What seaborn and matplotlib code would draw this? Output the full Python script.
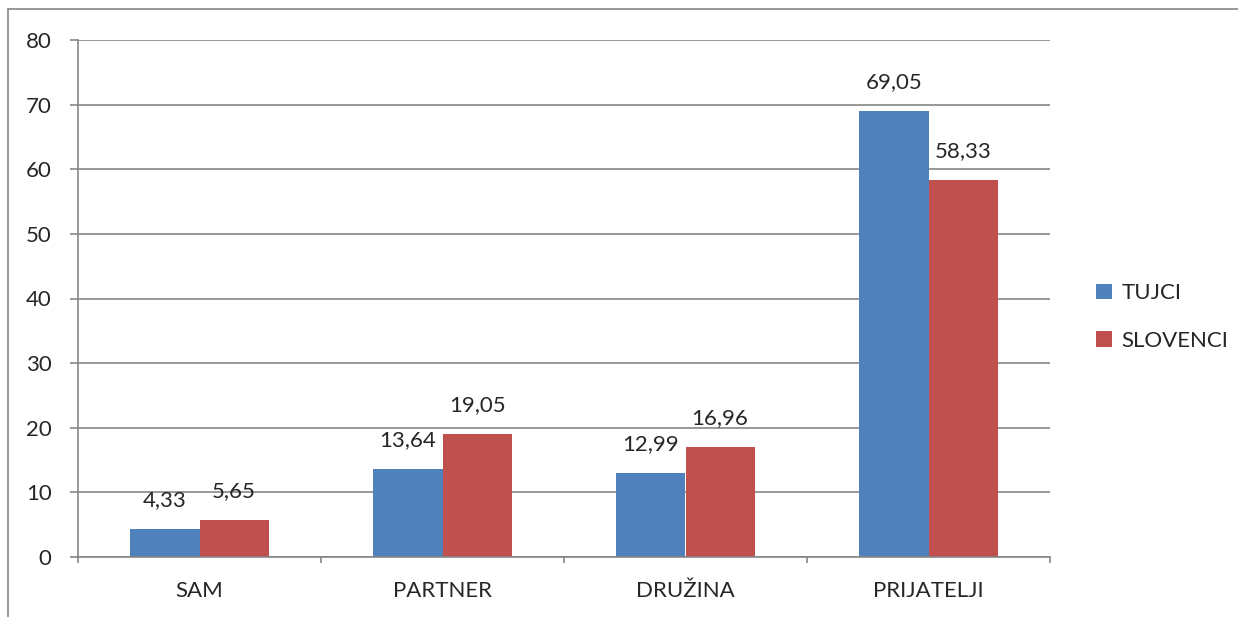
import matplotlib
matplotlib.use("Agg")
import matplotlib.pyplot as plt
from matplotlib.lines import Line2D
from matplotlib.patches import Patch
import seaborn as sns
import pandas as pd

categories = ["SAM", "PARTNER", "DRUŽINA", "PRIJATELJI"]
tujci = [4.33, 13.64, 12.99, 69.05]
slovenci = [5.65, 19.05, 16.96, 58.33]
series = ["TUJCI", "SLOVENCI"]
colors = ["#4F81BD", "#C0504D"]
yticks = [0, 10, 20, 30, 40, 50, 60, 70, 80]

df = pd.DataFrame({
    "cat": categories * 2,
    "val": tujci + slovenci,
    "serie": [series[0]] * 4 + [series[1]] * 4,
})

sns.set_style("white")
plt.rcParams["font.family"] = ["Lato", "DejaVu Sans"]
fs = 16
grid_c = "#868686"

fig = plt.figure(figsize=(12.38, 6.17), dpi=100)
ax = fig.add_axes([78/1238, 1-557/617, (1050-78)/1238, (557-40)/617])

sns.barplot(data=df, x="cat", y="val", hue="serie", palette=colors,
            width=0.57, saturation=1, edgecolor="none", legend=False, ax=ax)

ax.set_xlim(-0.5, 3.5)
ax.set_ylim(0, 80)
ax.set_yticks(yticks)
ax.set_yticklabels([str(t) for t in yticks], fontsize=fs)
ax.set_xlabel("")
ax.set_ylabel("")
ax.yaxis.grid(True, color=grid_c, linewidth=1.2)
ax.set_axisbelow(True)

for s in ["top", "right"]:
    ax.spines[s].set_visible(False)
for s in ["left", "bottom"]:
    ax.spines[s].set_color(grid_c)
    ax.spines[s].set_linewidth(1.2)

ax.tick_params(axis="y", length=6, width=1.2, color=grid_c, pad=13, left=True)
ax.tick_params(axis="x", which="major", length=0, pad=17, labelsize=fs)
ax.set_xticks([-0.5, 0.5, 1.5, 2.5, 3.5], minor=True)
ax.tick_params(axis="x", which="minor", length=4, width=1.2, color=grid_c, bottom=True)

for cont in ax.containers:
    labels = [f"{v:.2f}".replace(".", ",") for v in cont.datavalues]
    for bar, lab in zip(cont, labels):
        ax.annotate(lab, (bar.get_x() + bar.get_width()/2, bar.get_height()),
                    xytext=(0, 21), textcoords="offset points",
                    ha="center", va="center", fontsize=fs)

handles = [Patch(facecolor=c, edgecolor="none", label=s) for c, s in zip(colors, series)]
fig.legend(handles=handles, loc="center left", bbox_to_anchor=(1076/1238, 1-317/617),
           frameon=False, fontsize=fs, handlelength=0.7, handleheight=0.7,
           handletextpad=0.45, labelspacing=1.25)

# outer frame of the original chart area
fig.add_artist(Line2D([8/1238, 1], [1-9/617, 1-9/617], color=grid_c, linewidth=1.2))
fig.add_artist(Line2D([8/1238, 8/1238], [0, 1-9/617], color=grid_c, linewidth=1.2))

fig.savefig("out.png", dpi=100)
